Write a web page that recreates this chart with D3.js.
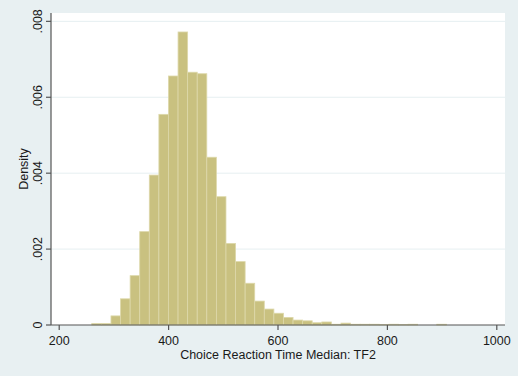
<!DOCTYPE html>
<html>
<head>
<meta charset="utf-8">
<script src="https://cdn.jsdelivr.net/npm/d3@7"></script>
<style>
  body { margin: 0; background: #e8f0f2; }
  svg { display: block; font-family: "Liberation Sans", Arial, sans-serif; }
</style>
</head>
<body>
<script>
var width = 518,
  height = 376;

// histogram of choice reaction time medians (bins of equal width)
var binStart = 259.6,
  binWidth = 17.52;
var densities = [
  0.00004, 0.00004, 0.00024, 0.00069, 0.0013, 0.00246, 0.00395, 0.00555,
  0.00656, 0.00772, 0.00666, 0.00662, 0.00442, 0.00338, 0.00215, 0.00167,
  0.0011, 0.00063, 0.00042, 0.00031, 0.0002, 0.00013, 0.00011, 0.00006,
  0.00008, 0.00002, 0.00005, 0.00002, 0.00002, 0.00002, 0.00001, 0.00002,
  0.00001, 0.00002, 0, 0, 0.00002
];
var xTicks = [200, 400, 600, 800, 1000];
var yTicks = [0, 0.002, 0.004, 0.006, 0.008];

var plot = { left: 51, right: 505, top: 13, bottom: 325 };

var svg = d3.select("body").append("svg").attr("width", width).attr("height", height);

var x = d3.scaleLinear().domain([185, 1015]).range([plot.left, plot.right]);
var y = d3.scaleLinear().domain([0, 0.00822]).range([plot.bottom, plot.top]);

// white plot region
svg.append("rect")
  .attr("x", plot.left).attr("y", plot.top)
  .attr("width", plot.right - plot.left).attr("height", plot.bottom - plot.top)
  .attr("fill", "#ffffff");

// gridlines
svg.append("g")
  .selectAll("line")
  .data(yTicks.filter(function (d) { return d > 0; }))
  .join("line")
  .attr("x1", plot.left).attr("x2", plot.right)
  .attr("y1", function (d) { return y(d); })
  .attr("y2", function (d) { return y(d); })
  .attr("stroke", "#e6eff1")
  .attr("stroke-width", 1);

// bars
var bins = densities.map(function (d, i) {
  return { x0: binStart + i * binWidth, x1: binStart + (i + 1) * binWidth, density: d };
});

svg.append("g")
  .selectAll("rect")
  .data(bins.filter(function (d) { return d.density > 0; }))
  .join("rect")
  .attr("x", function (d) { return x(d.x0); })
  .attr("width", function (d) { return x(d.x1) - x(d.x0); })
  .attr("y", function (d) { return y(d.density); })
  .attr("height", function (d) { return y(0) - y(d.density); })
  .attr("fill", "#c9c180")
  .attr("stroke", "#ddd8aa")
  .attr("stroke-width", 0.8);

function fmtY(d) {
  return d === 0 ? "0" : d3.format(".3f")(d).replace(/^0/, "");
}

// y axis
var yAxis = svg.append("g").attr("transform", "translate(" + plot.left + ",0)");
yAxis.append("line")
  .attr("x1", 0).attr("x2", 0)
  .attr("y1", plot.top).attr("y2", plot.bottom)
  .attr("stroke", "#555").attr("stroke-width", 1.2);
yAxis.selectAll("line.tick")
  .data(yTicks)
  .join("line")
  .attr("class", "tick")
  .attr("x1", -5).attr("x2", 0)
  .attr("y1", function (d) { return y(d); })
  .attr("y2", function (d) { return y(d); })
  .attr("stroke", "#555").attr("stroke-width", 1.2);
yAxis.selectAll("text")
  .data(yTicks)
  .join("text")
  .attr("transform", function (d) { return "translate(-9," + y(d) + ") rotate(-90)"; })
  .attr("text-anchor", "middle")
  .attr("font-size", 12.5)
  .attr("fill", "#1a1a1a")
  .text(fmtY);

svg.append("text")
  .attr("transform", "translate(27.5," + (plot.top + plot.bottom) / 2 + ") rotate(-90)")
  .attr("text-anchor", "middle")
  .attr("font-size", 12.5)
  .attr("fill", "#1a1a1a")
  .text("Density");

// x axis
var xAxis = svg.append("g").attr("transform", "translate(0," + plot.bottom + ")");
xAxis.append("line")
  .attr("x1", plot.left).attr("x2", plot.right)
  .attr("y1", 0).attr("y2", 0)
  .attr("stroke", "#555").attr("stroke-width", 1.2);
xAxis.selectAll("line.tick")
  .data(xTicks)
  .join("line")
  .attr("class", "tick")
  .attr("x1", function (d) { return x(d); })
  .attr("x2", function (d) { return x(d); })
  .attr("y1", 0).attr("y2", 5)
  .attr("stroke", "#555").attr("stroke-width", 1.2);
xAxis.selectAll("text")
  .data(xTicks)
  .join("text")
  .attr("x", function (d) { return x(d); })
  .attr("y", 20)
  .attr("text-anchor", "middle")
  .attr("font-size", 12.5)
  .attr("fill", "#1a1a1a")
  .text(function (d) { return d; });

svg.append("text")
  .attr("x", (plot.left + plot.right) / 2)
  .attr("y", 359)
  .attr("text-anchor", "middle")
  .attr("font-size", 12.5)
  .attr("fill", "#1a1a1a")
  .text("Choice Reaction Time Median: TF2");
</script>
</body>
</html>
